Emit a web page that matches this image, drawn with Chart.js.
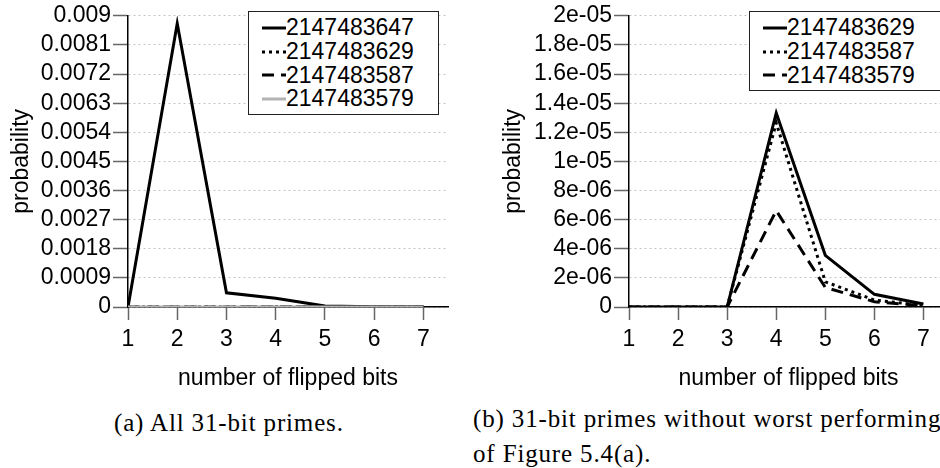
<!DOCTYPE html>
<html>
<head>
<meta charset="utf-8">
<script src="https://cdn.jsdelivr.net/npm/chart.js@4.4.1/dist/chart.umd.min.js"></script>
<style>
  body { margin: 0; background: #fff; }
  #page { position: relative; width: 940px; height: 468px; overflow: hidden; background: #fff; }
  .plot { position: absolute; top: 0; }
  .legend { position: absolute; border: 1.5px solid #222; background: #fff; box-sizing: border-box; padding: 4px 0 0 13px; }
  .legend .row { display: flex; align-items: center; height: 23.7px; font: 23px "Liberation Sans", Arial, sans-serif; color: #000; }
  .legend svg { display: block; flex: none; }
  .caption { position: absolute; font: 25px "Liberation Serif", "Times New Roman", serif; letter-spacing: 0.85px; line-height: 35px; color: #000; white-space: nowrap; }
</style>
</head>
<body>
<div id="page">
  <canvas id="chartA" class="plot" width="470" height="400" style="left:0"></canvas>
  <canvas id="chartB" class="plot" width="490" height="400" style="left:470px"></canvas>
  <div id="legendA" class="legend" style="left:248px; top:11px; width:191px; height:104px"></div>
  <div id="legendB" class="legend" style="left:749px; top:11px; width:230px; height:80px"></div>
  <div class="caption" style="left:114px; top:405px">(a) All 31-bit primes.</div>
  <div class="caption" style="left:473px; top:401px">(b) 31-bit primes without worst performing<br>of Figure 5.4(a).</div>
</div>
<script>
// Données
const flippedBits = [1, 2, 3, 4, 5, 6, 7];

const p2147483647 = [0, 0.00876, 0.00044, 0.00027, 0.00003, 0.00001, 0.000005];
const p2147483629 = [0, 0, 0, 1.333e-5, 3.55e-6, 8.7e-7, 2.0e-7];
const p2147483587 = [0, 0, 0, 1.265e-5, 1.73e-6, 4.8e-7, 1.0e-7];
const p2147483579 = [0, 0, 0, 6.62e-6, 1.34e-6, 3.6e-7, 0.8e-7];

const yTicksA = [0, 0.0009, 0.0018, 0.0027, 0.0036, 0.0045, 0.0054, 0.0063, 0.0072, 0.0081, 0.009];
const yLabelsA = ['0', '0.0009', '0.0018', '0.0027', '0.0036', '0.0045', '0.0054', '0.0063', '0.0072', '0.0081', '0.009'];
const yTicksB = [0, 2e-6, 4e-6, 6e-6, 8e-6, 1e-5, 1.2e-5, 1.4e-5, 1.6e-5, 1.8e-5, 2e-5];
const yLabelsB = ['0', '2e-06', '4e-06', '6e-06', '8e-06', '1e-05', '1.2e-05', '1.4e-05', '1.6e-05', '1.8e-05', '2e-05'];

const FONT = { family: '"Liberation Sans", Arial, sans-serif', size: 23 };

// Stiluri de linie
const STYLE_SOLID = { color: '#000', dash: [] };
const STYLE_DOT = { color: '#000', dash: [3, 4] };
const STYLE_DASH = { color: '#000', dash: [12, 7] };
const STYLE_GREY = { color: '#b3b3b3', dash: [] };

const toPoints = (values) => flippedBits.map((x, i) => ({ x: x, y: values[i] }));

const makeDataset = (label, values, style, order) => ({
    label: label,
    data: toPoints(values),
    borderColor: style.color,
    borderDash: style.dash,
    borderWidth: 3,
    pointRadius: 0,
    tension: 0,
    fill: false,
    order: order
});

const makeScales = (yWidth, yTicks, yLabels, yMax, titlePad) => ({
    x: {
        type: 'linear',
        min: 1,
        max: 7.5,
        afterBuildTicks: (axis) => { axis.ticks = flippedBits.map(v => ({ value: v })); },
        afterFit: (axis) => { axis.height = 93; },
        grid: { drawOnChartArea: false, drawTicks: true, tickLength: 13, tickColor: '#666', tickWidth: 1.5 },
        border: { display: true, color: '#000', width: 1.5 },
        ticks: { color: '#000', font: FONT, padding: 6, maxRotation: 0, autoSkip: false, callback: (v) => String(v) },
        title: { display: true, text: 'number of flipped bits', color: '#000', font: FONT, padding: { top: 0, bottom: 8 } }
    },
    y: {
        min: 0,
        max: yMax,
        afterBuildTicks: (axis) => { axis.ticks = yTicks.map(v => ({ value: v })); },
        afterFit: (axis) => { axis.width = yWidth; },
        grid: { color: '#c4c4c4', lineWidth: 1, drawTicks: true, tickLength: 15, tickColor: '#666', tickWidth: 1.5, tickBorderDash: [] },
        border: { display: true, color: '#000', width: 1.5, dash: [2, 3] },
        ticks: { color: '#000', font: FONT, padding: 2, autoSkip: false, callback: (v, i) => yLabels[i] },
        title: { display: true, text: 'probability', color: '#000', font: FONT, padding: { top: titlePad, bottom: 0 } }
    }
});

const baseOptions = (scales, padRight) => ({
    responsive: false,
    animation: false,
    devicePixelRatio: 1,
    layout: { padding: { top: 14, left: 0, right: padRight, bottom: 0 } },
    plugins: { legend: { display: false }, tooltip: { enabled: false } },
    scales: scales
});

// Legendă HTML
const buildLegend = (id, items) => {
    const box = document.getElementById(id);
    items.forEach(it => {
        const row = document.createElement('div');
        row.className = 'row';
        row.innerHTML = '<svg width="24" height="8"><line x1="0" y1="4" x2="24" y2="4" stroke="' + it.style.color +
            '" stroke-width="3" stroke-dasharray="' + (it.style.dash.length ? it.style.dash.join(',') : 'none') + '"/></svg>' +
            '<span>' + it.label + '</span>';
        box.appendChild(row);
    });
};

// Grafic (a)
const seriesA = [
    { label: '2147483647', values: p2147483647, style: STYLE_SOLID, order: 3 },
    { label: '2147483629', values: p2147483629, style: STYLE_DOT, order: 2 },
    { label: '2147483587', values: p2147483587, style: STYLE_DASH, order: 1 },
    { label: '2147483579', values: p2147483579, style: STYLE_GREY, order: 0 }
];
new Chart(document.getElementById('chartA'), {
    type: 'line',
    data: { datasets: seriesA.map(s => makeDataset(s.label, s.values, s.style, s.order)) },
    options: baseOptions(makeScales(128, yTicksA, yLabelsA, 0.009, 8), 22)
});
buildLegend('legendA', seriesA);

// Grafic (b)
const seriesB = [
    { label: '2147483629', values: p2147483629, style: STYLE_SOLID, order: 0 },
    { label: '2147483587', values: p2147483587, style: STYLE_DOT, order: 1 },
    { label: '2147483579', values: p2147483579, style: STYLE_DASH, order: 2 }
];
new Chart(document.getElementById('chartB'), {
    type: 'line',
    data: { datasets: seriesB.map(s => makeDataset(s.label, s.values, s.style, s.order)) },
    options: baseOptions(makeScales(159, yTicksB, yLabelsB, 2e-5, 30), 12)
});
buildLegend('legendB', seriesB);
</script>
</body>
</html>
